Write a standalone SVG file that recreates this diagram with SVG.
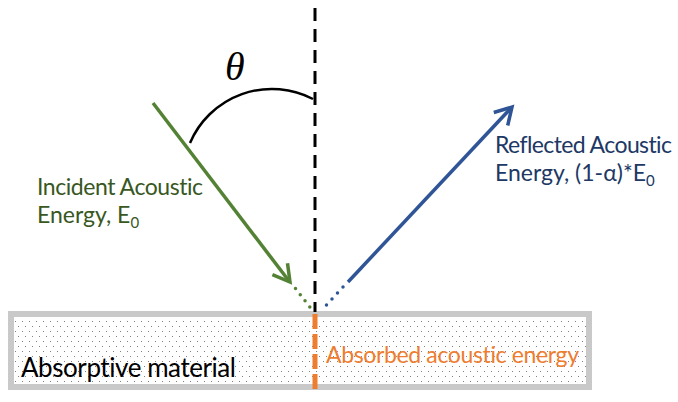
<svg xmlns="http://www.w3.org/2000/svg" width="678" height="402" viewBox="0 0 678 402">
<style>
.lbl{font-family:Lato,"Open Sans","Liberation Sans",sans-serif;font-size:23px;font-variant-ligatures:none}
.green{fill:#385723}
.blue{fill:#203864}
.orange{fill:#ED7D31}
.ga{stroke:#548235;stroke-width:3.5;fill:none}
.ba{stroke:#2F5597;stroke-width:3.5;fill:none}
.dots{stroke-dasharray:0 7.8;stroke-linecap:round}
</style>
<defs>
<pattern id="dotfill" width="7" height="10" patternUnits="userSpaceOnUse">
<rect width="7" height="10" fill="#ffffff"/>
<rect x="1" y="1" width="1" height="1" fill="#808080"/>
<rect x="4" y="6" width="1" height="1" fill="#808080"/>
</pattern>
</defs>
<rect width="678" height="402" fill="#ffffff"/>
<g id="material">
<rect x="11" y="314" width="578" height="73" fill="url(#dotfill)" stroke="#C9C9C9" stroke-width="6"/>
<text class="lbl" x="21" y="377" style="font-size:26px" textLength="215" fill="#000000">Absorptive material</text>
</g>
<g id="normal">
<line x1="315" y1="8" x2="315" y2="312" stroke="#000000" stroke-width="3" stroke-dasharray="13 8"/>
</g>
<g id="absorbed">
<line x1="315" y1="314" x2="315" y2="390" stroke="#ED7D31" stroke-width="5" stroke-dasharray="15 5"/>
<text class="lbl orange" x="326" y="363" textLength="253">Absorbed acoustic energy</text>
</g>
<g id="angle">
<path d="M190,143 A89,89 0 0 1 313,99" fill="none" stroke="#000000" stroke-width="2.5"/>
<text x="225" y="80" font-family="'Liberation Serif','DejaVu Serif',serif" font-style="italic" font-size="40" fill="#000000">θ</text>
</g>
<g id="connectors">
<line class="ga" x1="153" y1="103" x2="289" y2="281"/>
<polyline class="ga" points="272.4,274.7 290,282 287.5,263.2"/>
<path class="ga dots" d="M295.5,288.5 L310,307.3"/>
<line class="ba" x1="348" y1="282" x2="511" y2="108"/>
<polyline class="ba" points="493.8,112.5 512,107 507.7,125.5"/>
<path class="ba dots" d="M343,287 L321,311" style="stroke-dasharray:0 8.15"/>
</g>
<g id="incident">
<text class="lbl green" x="37" y="195" textLength="166">Incident Acoustic</text>
<text class="lbl green" x="37" y="223">Energy, E<tspan font-size="15" dy="5">0</tspan></text>
</g>
<g id="reflected">
<text class="lbl blue" x="495" y="153" textLength="177">Reflected Acoustic</text>
<text class="lbl blue" x="495" y="181">Energy, (1-α)*E<tspan font-size="15" dy="5">0</tspan></text>
</g>
</svg>
